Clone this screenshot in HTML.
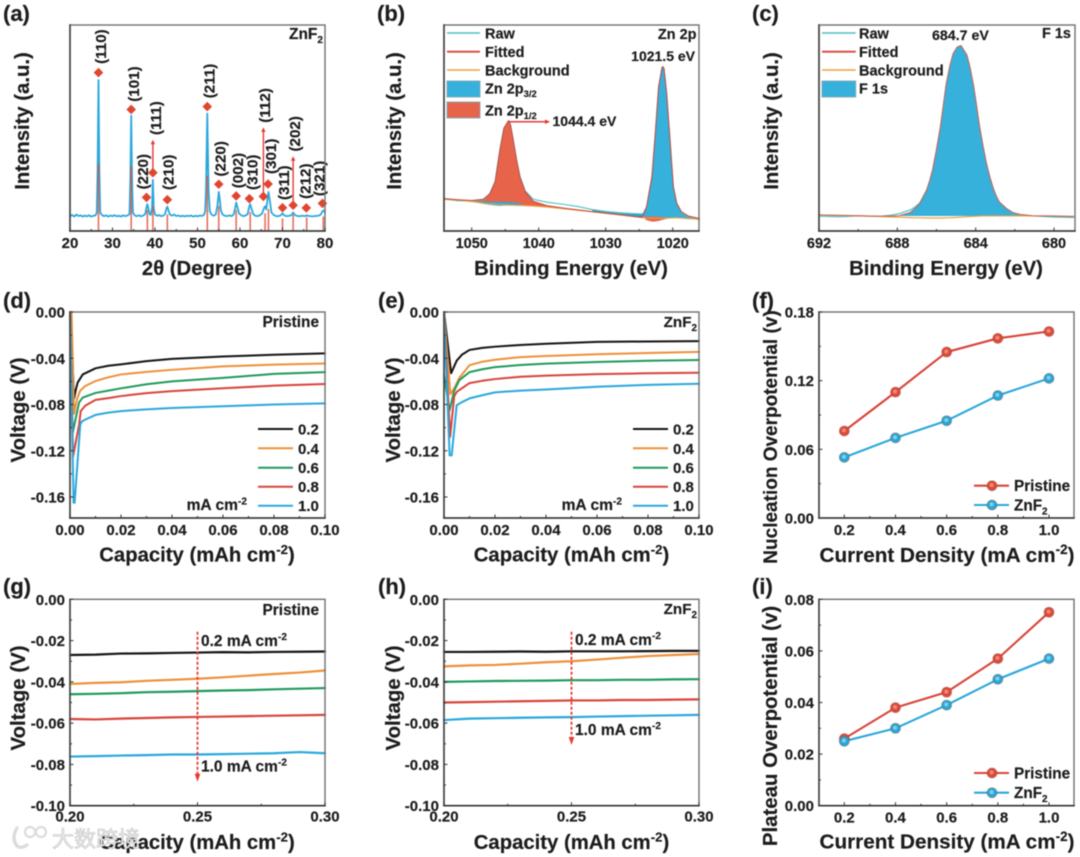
<!DOCTYPE html>
<html lang="en">
<head>
<meta charset="utf-8">
<title>ZnF2 characterization and overpotential panels</title>
<style>
html,body{margin:0;padding:0;background:#fff;width:1080px;height:857px;overflow:hidden}
svg{display:block;filter:blur(0.45px)}
text{font-family:"Liberation Sans","Noto Sans CJK SC",sans-serif;font-weight:bold;fill:#1c1c1c;stroke:#1c1c1c;stroke-width:.18px}
</style>
</head>
<body>
<svg id="fig" xmlns="http://www.w3.org/2000/svg" width="1080" height="857" viewBox="0 0 1080 857"></svg>
<script>
/* ---------- panel (a) XRD ---------- */
const xrdTheta=[20,20.5,21,21.5,22,22.5,23,23.5,24,24.5,25,25.5,26,26.3,26.5,26.7,26.9,27.1,27.5,28,28.5,29,29.5,30,30.5,31,31.5,32,32.5,33,33.5,34,34.2,34.4,34.6,34.8,35.2,35.7,36.2,36.7,37.2,37.7,38,38.2,38.4,38.7,39,39.3,39.5,39.7,40,40.5,41,41.5,42,42.4,42.7,42.9,43.1,43.5,44,44.5,45,45.5,46,46.5,47,47.5,48,48.5,49,49.5,50,50.5,51,51.5,51.8,52,52.3,52.6,52.9,53.3,53.8,54.3,54.7,55,55.2,55.5,55.9,56.4,57,57.5,58,58.5,58.9,59.1,59.4,59.8,60.3,60.8,61.3,61.8,62.2,62.4,62.7,63.1,63.6,64.1,64.6,65.2,65.7,65.9,66.2,66.5,66.7,67,67.4,67.9,68.4,69,69.6,70,70.4,71,71.6,72.1,72.5,72.9,73.5,74,74.7,75.3,75.7,76.2,77,77.7,78.4,79,79.4,79.7,80];
const xrdIntensity=[7.2,7.8,7.0,8.0,7.3,7.6,7.0,7.5,7.1,7.6,7.0,7.4,7.6,9,30,73.3,30,9,7.8,7.2,7.6,7.0,7.5,7.2,7.7,7.1,7.4,7.0,7.6,7.2,7.5,8.2,25,56,25,9,7.6,7.2,7.6,7.1,7.5,8.2,11.5,13,11.5,8.4,7.8,11,24.8,11,8,7.4,7.7,7.2,7.5,8.4,11,11.8,10.5,8,7.5,8,7.3,7.5,7.1,7.4,7.1,7.4,7.2,7.5,7,7.4,7.1,7.5,7.3,7.8,9.5,20,57,20,9.5,8,7.4,8,12.5,19,16,10,8,7.4,7.2,7.6,7.2,8,11.5,13.8,11.5,8.4,7.6,7.2,7.5,8.2,12,13,11,8.2,7.4,7.2,7.5,8.5,11.5,12,10.5,16,19,15,9,7.8,7.3,7.2,7.6,8.6,7.6,7.2,7.4,7.7,9,7.8,7.3,7.2,7.4,7.2,7.6,7.3,7.1,7.3,7.4,8,9.6,10,9];
const refTheta=[26.7,34.4,38.2,39.5,42.9,52.3,55,59.1,62.4,65.9,66.7,70,72.5,75.7,79.6];
const refIntensity=[32.8,31.5,10.2,12,8.1,26.9,12.1,10.2,9.2,8.6,10.7,6.1,7.8,6.6,7];
const markerTheta=[26.7,34.4,38.0,39.5,42.9,52.3,55.0,59.1,62.2,65.5,66.6,70.0,72.5,75.6,79.4];
const markerLevel=[76.9,59,16.3,28.3,15.2,60.4,22.7,17,15.7,16.8,22.8,11.3,12.5,11.2,13.4];
const hklLabels=['(110)','(101)','(220)','(111)','(210)','(211)','(220)','(002)','(310)','(112)','(301)','(311)','(202)','(212)','(321)'];
const aXTicks=[20,30,40,50,60,70,80];
const aXMinor=[25,35,45,55,65,75];

/* ---------- panel (b) Zn 2p ---------- */
const bEnergy=[1054,1052,1050,1048.3,1047.3,1046.5,1045.8,1045.2,1044.5,1044.2,1043.8,1043.3,1042.8,1042,1040.8,1038.8,1036,1034,1032,1030,1028,1026,1024.6,1024.4,1023.9,1023.1,1022.6,1022.1,1021.6,1021.5,1021.3,1020.9,1020.4,1019.9,1019.4,1018.7,1017.7,1016];
const bBackground=[15.5,15.0,14.3,13.5,13.2,13.0,12.8,12.7,12.6,12.5,12.5,12.4,12.4,12.3,12.1,11.6,10.7,10,9.3,8.6,7.9,7.1,6.5,6.4,6.3,6.2,6.2,6.2,6.2,6.2,6.2,6.2,6.3,6.4,6.4,6.3,6,5.7];
const bFitted=[15.7,15.2,14.8,15.4,18,24,39.3,49.8,53.6,51.5,44.2,34.5,26.4,19,14.4,12.3,11,10.2,9.4,8.7,7.9,7.1,6.6,7.6,11.8,26.4,47.4,70,79.3,79.8,79,66.8,44.2,21.5,13.4,9.4,7.3,6.1];
const bRaw=[15.4,14.7,14.6,15.0,18.2,24.1,39.2,49.9,53.6,51.5,44.1,34.6,26.5,19.4,15.4,14,12.8,11.8,10.4,9.5,8.9,8.5,8.3,8.6,11.6,26.4,47.4,70.1,79.3,79.8,79,66.7,44.2,21.4,13.5,9.1,6.8,5.4];
const bUnderE=[1050,1048,1046,1044,1042];
const bUnderTop=[14.3,14.3,14.2,14,13];
const bUnderBottom=[14.3,13,12.2,12.4,13];
const bHumpE=[1024.4,1023.9,1023,1022.2,1021.3,1020.4];
const bHumpBottom=[6.8,5.2,4.5,4.8,5.6,6.3];
const bHumpTop=[7,7,7,6.9,6.6,6.3];
const bXTicks=[1050,1040,1030,1020];
const bXMinor=[1045,1035,1025];

/* ---------- panel (c) F 1s ---------- */
const cEnergy=[692,691,690,689,688.3,687.9,687.35,687.1,686.85,686.5,686.35,686.2,686,685.8,685.65,685.5,685.32,685.15,684.95,684.75,684.45,684.28,684.1,683.95,683.8,683.62,683.45,683.27,683.1,682.95,682.8,682.45,682.1,681.75,681.1,680,679];
const cFitted=[7.8,7.6,7.4,7.2,7.2,7.4,9,11,13.4,19.9,24.3,29.6,39.5,50.6,61,71.6,80,86.1,89.2,90,85.5,79,70.1,60.5,50.6,41,32.8,26,20.6,17,14.2,11,9,8.1,7.4,7.3,7];
const cRaw=[7.2,6.9,7.3,7.0,7.7,8.4,10.2,11.6,13.7,20,24.3,29.6,39.5,50.5,61,71.5,80,86,89.2,90,85.4,79,70,60.5,50.6,41,32.7,26,20.7,17,14.1,11.1,8.8,8,7.3,6.8,6.6];
const cBackground=[7.8,7.6,7.4,7.1,6.8,6.7,6.5,6.4,6.4,6.3,6.3,6.3,6.3,6.3,6.3,6.4,6.4,6.5,6.6,6.7,6.9,7,7.1,7.2,7.2,7.3,7.3,7.3,7.3,7.3,7.3,7.3,7.3,7.3,7.3,7.3,7.1];
const cXTicks=[692,688,684,680];
const cXMinor=[690,686,682];

/* ---------- panel (d) Pristine voltage profiles ---------- */
const dCap02=[0.0002,0.0016,0.0022,0.003,0.005,0.01,0.015,0.02,0.03,0.04,0.06,0.08,0.1];
const dV02=[0,-0.075,-0.068,-0.061,-0.054,-0.0487,-0.0465,-0.0453,-0.0425,-0.0405,-0.0385,-0.037,-0.0358];
const dCap04=[0.0006,0.0016,0.0028,0.004,0.006,0.01,0.015,0.02,0.03,0.04,0.06,0.08,0.1];
const dV04=[0,-0.088,-0.075,-0.068,-0.064,-0.0597,-0.0565,-0.054,-0.0518,-0.05,-0.047,-0.0455,-0.0445];
const dCap06=[0,0.001,0.0032,0.0036,0.005,0.01,0.015,0.02,0.03,0.04,0.06,0.08,0.1];
const dV06=[0,-0.105,-0.082,-0.078,-0.074,-0.07,-0.068,-0.066,-0.0625,-0.06,-0.057,-0.0535,-0.052];
const dCap08=[0,0.0012,0.0036,0.0042,0.006,0.01,0.015,0.02,0.03,0.04,0.06,0.08,0.1];
const dV08=[0,-0.125,-0.097,-0.0857,-0.081,-0.076,-0.0745,-0.0727,-0.0702,-0.0684,-0.066,-0.0637,-0.0623];
const dCap10=[0,0.0014,0.0018,0.004,0.0045,0.006,0.01,0.015,0.02,0.03,0.04,0.06,0.08,0.1];
const dV10=[0,-0.165,-0.165,-0.098,-0.095,-0.093,-0.089,-0.087,-0.0857,-0.0842,-0.083,-0.0815,-0.08,-0.079];

/* ---------- panel (e) ZnF2 voltage profiles ---------- */
const eCap02=[0,0.0028,0.004,0.005,0.007,0.01,0.015,0.02,0.03,0.04,0.06,0.08,0.1];
const eV02=[0,-0.053,-0.047,-0.042,-0.037,-0.0328,-0.031,-0.03,-0.0285,-0.0275,-0.0258,-0.0255,-0.0252];
const eCap04=[0,0.0025,0.004,0.006,0.01,0.015,0.02,0.03,0.04,0.06,0.08,0.1];
const eV04=[0,-0.071,-0.066,-0.057,-0.046,-0.043,-0.0413,-0.039,-0.038,-0.0365,-0.0355,-0.0345];
const eCap06=[0,0.0022,0.004,0.006,0.01,0.015,0.02,0.03,0.04,0.06,0.08,0.1];
const eV06=[-0.055,-0.085,-0.068,-0.059,-0.052,-0.0495,-0.0477,-0.0458,-0.0447,-0.0432,-0.0422,-0.0415];
const eCap08=[0,0.0024,0.004,0.005,0.01,0.015,0.02,0.03,0.04,0.06,0.08,0.1];
const eV08=[0,-0.108,-0.073,-0.069,-0.0615,-0.0595,-0.058,-0.056,-0.055,-0.0537,-0.053,-0.0525];
const eCap10=[0,0.0022,0.003,0.005,0.007,0.01,0.015,0.02,0.03,0.04,0.06,0.08,0.1];
const eV10=[0,-0.124,-0.124,-0.0805,-0.078,-0.0747,-0.072,-0.0695,-0.068,-0.067,-0.0647,-0.063,-0.062];
const profileXLabels=['0.00','0.02','0.04','0.06','0.08','0.10'];
const profileXMinor=[0.01,0.03,0.05,0.07,0.09];
const profileYLabels=['0.00','-0.04','-0.08','-0.12','-0.16'];
const profileYMinor=[-0.02,-0.06,-0.1,-0.14];
const rateLabels=['0.2','0.4','0.6','0.8','1.0'];

/* ---------- panels (g) (h) plateau zooms ---------- */
const plateauCap=[0.2,0.21,0.22,0.23,0.24,0.25,0.26,0.27,0.28,0.29,0.3];
const gV02=[-0.027,-0.0268,-0.0263,-0.0262,-0.026,-0.0258,-0.0256,-0.0257,-0.0255,-0.0254,-0.0253];
const gV04=[-0.041,-0.0405,-0.0402,-0.0395,-0.039,-0.0385,-0.0378,-0.037,-0.0362,-0.0355,-0.0345];
const gV06=[-0.046,-0.0458,-0.0455,-0.045,-0.0448,-0.0445,-0.0442,-0.044,-0.0436,-0.0433,-0.043];
const gV08=[-0.058,-0.0582,-0.0578,-0.0575,-0.0572,-0.057,-0.0568,-0.0566,-0.0564,-0.0562,-0.056];
const gV10=[-0.0762,-0.076,-0.0757,-0.0755,-0.0752,-0.0752,-0.075,-0.0748,-0.0746,-0.074,-0.0746];
const hV02=[-0.0255,-0.0255,-0.0254,-0.0253,-0.0254,-0.0252,-0.0252,-0.0252,-0.0251,-0.025,-0.025];
const hV04=[-0.0325,-0.032,-0.0318,-0.0312,-0.0305,-0.03,-0.0292,-0.0283,-0.0275,-0.027,-0.0265];
const hV06=[-0.04,-0.0398,-0.0396,-0.0395,-0.0394,-0.0392,-0.0392,-0.039,-0.039,-0.0388,-0.0387];
const hV08=[-0.05,-0.0498,-0.0496,-0.0494,-0.0492,-0.049,-0.049,-0.0488,-0.0488,-0.0486,-0.0485];
const hV10=[-0.0585,-0.0578,-0.0576,-0.0574,-0.0572,-0.0571,-0.0568,-0.0566,-0.0564,-0.0562,-0.056];
const plateauXLabels=['0.20','0.25','0.30'];
const plateauXMinor=[0.225,0.275];
const plateauYLabels=['0.00','-0.02','-0.04','-0.06','-0.08','-0.10'];
const plateauYMinor=[-0.01,-0.03,-0.05,-0.07,-0.09];
const gArrowRange=[-0.0157,-0.0884];
const hArrowRange=[-0.0157,-0.0706];

/* ---------- panels (f) (i) summary ---------- */
const currentDensity=[0.2,0.4,0.6,0.8,1.0];
const currentLabels=['0.2','0.4','0.6','0.8','1.0'];
const currentMinor=[0.3,0.5,0.7,0.9];
const fPristine=[0.076,0.11,0.145,0.157,0.163];
const fZnF2=[0.053,0.07,0.085,0.107,0.122];
const fYLabels=['0.00','0.06','0.12','0.18'];
const fYMinor=[0.03,0.09,0.15];
const iPristine=[0.026,0.038,0.044,0.057,0.075];
const iZnF2=[0.025,0.03,0.039,0.049,0.057];
const iYLabels=['0.00','0.02','0.04','0.06','0.08'];
const iYMinor=[0.01,0.03,0.05,0.07];

const NS='http://www.w3.org/2000/svg';
const COL={k:'#141414',o:'#ee9038',g:'#1f9a5c',r:'#d9443a',b:'#2aa8dc',fillB:'#35b1dc',fillR:'#e7644b',teal:'#52bfc2',bgO:'#eea13f',arrow:'#e53a32'};
const RATE_COLORS=[COL.k,COL.o,COL.g,COL.r,COL.b];
const fig=document.getElementById('fig');

function scale(d0,d1,r0,r1){return v=>r0+(v-d0)*(r1-r0)/(d1-d0);}
function attrs(el,a){for(const k in a)el.setAttribute(k,a[k]);return el;}
function group(parent,name){
  const el=document.createElementNS(NS,'g');
  
  
  parent.appendChild(el);
  return el;
}
function line(parent,name,x1,y1,x2,y2,color,w,dash){
  const el=document.createElementNS(NS,'line');
  
  
  attrs(el,{x1,y1,x2,y2,stroke:color,'stroke-width':w});
  if(dash)el.setAttribute('stroke-dasharray',dash);
  parent.appendChild(el);
  return el;
}
function poly(parent,name,xs,ys,sx,sy,color,w){
  const el=document.createElementNS(NS,'polyline');
  
  
  attrs(el,{points:xs.map((x,i)=>sx(x).toFixed(2)+','+sy(ys[i]).toFixed(2)).join(' '),fill:'none',stroke:color,'stroke-width':w,'stroke-linejoin':'round','stroke-linecap':'round'});
  parent.appendChild(el);
  return el;
}
function area(parent,name,xsTop,ysTop,xsBot,ysBot,sx,sy,color){
  const pts=[];
  xsTop.forEach((x,i)=>pts.push(sx(x).toFixed(2)+','+sy(ysTop[i]).toFixed(2)));
  for(let i=xsBot.length-1;i>=0;i--)pts.push(sx(xsBot[i]).toFixed(2)+','+sy(ysBot[i]).toFixed(2));
  const el=document.createElementNS(NS,'polygon');
  
  
  attrs(el,{points:pts.join(' '),fill:color,stroke:'none'});
  parent.appendChild(el);
  return el;
}
function triangle(parent,name,pts,color){
  const el=document.createElementNS(NS,'polygon');
  
  
  attrs(el,{points:pts,fill:color});
  parent.appendChild(el);
  return el;
}
function circle(parent,name,cx,cy,r,fill,stroke){
  const el=document.createElementNS(NS,'circle');
  
  
  attrs(el,{cx,cy,r,fill});
  if(stroke){el.setAttribute('stroke',stroke);el.setAttribute('stroke-width',1);}
  parent.appendChild(el);
  return el;
}
function rect(parent,name,x,y,w,h,fill,stroke){
  const el=document.createElementNS(NS,'rect');
  
  
  attrs(el,{x,y,width:w,height:h,fill});
  if(stroke){el.setAttribute('stroke',stroke);el.setAttribute('stroke-width',1);}
  parent.appendChild(el);
  return el;
}
/* text with ^{sup} and _{sub} segments */
function label(parent,name,x,y,str,size,anchor,rot){
  const el=document.createElementNS(NS,'text');
  
  
  attrs(el,{x,y,'font-size':size,'text-anchor':anchor||'start'});
  if(rot)el.setAttribute('transform','rotate('+rot+' '+x+' '+y+')');
  const parts=str.split(/([\^_]\{[^}]*\})/);
  let pending=0;
  parts.forEach(p=>{
    if(!p)return;
    const t=document.createElementNS(NS,'tspan');
    const m=p.match(/^([\^_])\{([^}]*)\}$/);
    if(m){
      const d=(m[1]==='^'?-0.38:0.25)*size;
      t.setAttribute('dy',(pending+d).toFixed(2));
      t.setAttribute('font-size',(size*0.65).toFixed(2));
      t.textContent=m[2];
      pending=-d;
    }else{
      if(pending)t.setAttribute('dy',pending.toFixed(2));
      pending=0;
      t.textContent=p;
    }
    el.appendChild(t);
  });
  parent.appendChild(el);
  return el;
}
function frame(parent,box){
  const el=document.createElementNS(NS,'rect');
  
  
  attrs(el,{x:box.l,y:box.t,width:box.r-box.l,height:box.b-box.t,fill:'none',stroke:'#707070','stroke-width':1.4});
  parent.appendChild(el);
  line(parent,'x-axis-line',box.l-.7,box.b,box.r+.7,box.b,'#333',1.6);
  line(parent,'y-axis-line',box.l,box.t-.7,box.l,box.b+.7,'#444',1.6);
}
function xAxis(parent,box,sx,labels,minor,baseline,size){
  labels.forEach(s=>{
    const v=Number(s),x=sx(v);
    line(parent,'x-major-tick',x,box.b,x,box.b-3.5,'#333',1);
    label(parent,'x-tick-label',x,baseline,String(s),size||15,'middle');
  });
  minor.forEach(v=>{line(parent,'x-minor-tick',sx(v),box.b,sx(v),box.b-2,'#333',1);});
}
function yAxis(parent,box,sy,labels,minor){
  labels.forEach(s=>{
    const y=sy(Number(s));
    line(parent,'y-major-tick',box.l,y,box.l+3.5,y,'#333',1);
    label(parent,'y-tick-label',box.l-5,y+5.5,s,15,'end');
  });
  minor.forEach(v=>{line(parent,'y-minor-tick',box.l,sy(v),box.l+2,sy(v),'#333',1);});
}
function rateLegend(parent,x1,x2,tx,ys,unitX){
  rateLabels.forEach((s,i)=>{
    line(parent,'legend-line-'+s,x1,ys[i],x2,ys[i],RATE_COLORS[i],2);
    label(parent,'legend-label-'+s,tx,ys[i]+5.5,s,15);
  });
  label(parent,'legend-unit',unitX,ys[4]+4.5,'mA cm^{-2}',15.6,'end');
}
function xpsLegend(parent,lx1,lx2,tx,keys){
  const ys=[33,51.7,70];
  const names=['Raw','Fitted','Background'];
  const cols=[COL.teal,COL.r,COL.bgO];
  names.forEach((n,i)=>{
    line(parent,'legend-line-'+n.toLowerCase(),lx1,ys[i],lx2,ys[i],cols[i],i===1?1.8:1.5);
    label(parent,'legend-label-'+n.toLowerCase(),tx,ys[i]+5.5,n,14.5);
  });
  keys.forEach((k,i)=>{
    const y=81+i*21;
    rect(parent,'legend-swatch',lx1,y,lx2-lx1,16,k.color,'#8ab');
    label(parent,'legend-label-peak',tx,y+12.5+(i?1:0),k.text,14.5);
  });
}

/* ---------- draw panel (a) ---------- */
(function(){
  const box={l:70,r:325,t:25,b:231};
  const g=group(fig,'panel-a-xrd');
  const sx=scale(20,80,box.l,box.r), sy=scale(0,100,box.b,box.t);
  poly(g,'xrd-pattern',xrdTheta,xrdIntensity,sx,sy,COL.b,1.8);
  refTheta.forEach((t,i)=>{
    const el=line(g,'reference-bar',sx(t),sy(0),sx(t),sy(refIntensity[i]),'rgba(222,74,54,.8)',1.6);
    el.setAttribute('stroke-linecap','butt');
  });
  const offs=[[7.3,-8.7],[8,-7.7],[1.7,-8],[8,-37.7],[6.3,-9.7],[7,-8.3],[7,-7.7],[7,-7.7],[8,-8.7],[6.7,-73.7],[8,-10],[6.3,-7.7],[7,-53.7],[4,-9],[2.3,-7.3]];
  const arrowLen={3:33,9:69,12:49};
  markerTheta.forEach((t,i)=>{
    const x=sx(t),y=sy(markerLevel[i]);
    if(arrowLen[i]){
      const tip=y-arrowLen[i];
      line(g,'peak-arrow-stem',x,y,x,tip+3,COL.arrow,1.4);
      triangle(g,'peak-arrow-head',x+','+tip+' '+(x-2.2)+','+(tip+4.5)+' '+(x+2.2)+','+(tip+4.5),COL.arrow);
    }
    triangle(g,'peak-marker-diamond',x+','+(y-4.8)+' '+(x+4.8)+','+y+' '+x+','+(y+4.8)+' '+(x-4.8)+','+y,'#e0452f');
    label(g,'peak-label',x+offs[i][0],y+offs[i][1],hklLabels[i],15.2,'start',-90);
  });
  frame(g,box);
  xAxis(g,box,sx,aXTicks,aXMinor,248);
  label(g,'x-axis-title',197,275,'2θ (Degree)',20.3,'middle');
  label(g,'y-axis-title',29,121,'Intensity (a.u.)',20.3,'middle',-90);
  label(g,'sample-label',323,39,'ZnF_{2}',15.5,'end');
  label(g,'panel-letter',3,21,'(a)',22);
})();

/* ---------- draw panel (b) ---------- */
(function(){
  const box={l:444,r:699,t:25,b:231};
  const g=group(fig,'panel-b-zn2p');
  const sx=scale(1050,1020,471.7,672.7), sy=scale(0,100,box.b,box.t);
  const n=bEnergy.length;
  area(g,'zn2p12-fill',bEnergy.slice(0,18),bFitted.slice(0,18),bEnergy.slice(0,18),bBackground.slice(0,18),sx,sy,COL.fillR);
  area(g,'zn2p32-shoulder-fill',bEnergy.slice(18,24),bRaw.slice(18,24),bEnergy.slice(18,24),bFitted.slice(18,24),sx,sy,'#2f9fc6');
  area(g,'zn2p32-fill',bEnergy.slice(23,n),bFitted.slice(23,n),bEnergy.slice(23,n),bBackground.slice(23,n),sx,sy,COL.fillB);
  area(g,'zn2p12-under-fill',bUnderE,bUnderTop,bUnderE,bUnderBottom,sx,sy,'#3aa6cc');
  area(g,'zn2p12-hump-fill',bHumpE,bHumpTop,bHumpE,bHumpBottom,sx,sy,COL.fillR);
  poly(g,'raw-curve',bEnergy,bRaw,sx,sy,COL.teal,1.1);
  poly(g,'background-curve',bEnergy,bBackground,sx,sy,COL.bgO,1.1);
  poly(g,'fitted-curve',bEnergy,bFitted,sx,sy,'#c9473f',1);
  frame(g,box);
  xAxis(g,box,sx,bXTicks,bXMinor,248,14.5);
  label(g,'x-axis-title',571,275,'Binding Energy (eV)',20.3,'middle');
  label(g,'y-axis-title',401,121,'Intensity (a.u.)',20.3,'middle',-90);
  xpsLegend(g,447,480,485,[{text:'Zn 2p_{3/2}',color:COL.fillB},{text:'Zn 2p_{1/2}',color:COL.fillR}]);
  label(g,'region-label',696.5,39,'Zn 2p',14.5,'end');
  label(g,'peak-value-3-2',695,61,'1021.5 eV',14,'end');
  line(g,'peak-value-arrow',sx(1044.4),121.7,546,121.7,COL.arrow,1.5);
  triangle(g,'peak-value-arrow-head','550,121.7 545,119.5 545,124',COL.arrow);
  label(g,'peak-value-1-2',552.5,126,'1044.4 eV',14);
  label(g,'panel-letter',377,21,'(b)',22);
})();

/* ---------- draw panel (c) ---------- */
(function(){
  const box={l:819,r:1075,t:25,b:231};
  const g=group(fig,'panel-c-f1s');
  const sx=scale(692,680,819,1054), sy=scale(0,100,box.b,box.t);
  const fe=cEnergy.slice(5), ff=cFitted.slice(5), base=fe.map(()=>cBackground[30]);
  area(g,'f1s-fill',fe,ff,fe,base,sx,sy,COL.fillB);
  poly(g,'raw-curve',cEnergy,cRaw,sx,sy,COL.teal,1.2);
  poly(g,'background-curve',cEnergy,cBackground,sx,sy,COL.bgO,1.2);
  poly(g,'fitted-curve',cEnergy,cFitted,sx,sy,'#c8625c',1);
  frame(g,box);
  xAxis(g,box,sx,cXTicks,cXMinor,248,14.5);
  label(g,'x-axis-title',946,275,'Binding Energy (eV)',20.3,'middle');
  label(g,'y-axis-title',778,121,'Intensity (a.u.)',20.3,'middle',-90);
  xpsLegend(g,822,855.7,859,[{text:'F 1s',color:COL.fillB}]);
  label(g,'peak-value',932,40,'684.7 eV',14.2);
  label(g,'region-label',1071,38,'F 1s',14.5,'end');
  label(g,'panel-letter',752,21,'(c)',22);
})();

/* ---------- draw panels (d) (e) ---------- */
function profilePanel(name,box,letter,lx,caps,volts,tag,legendX,titleX,titleCX){
  const g=group(fig,name);
  const sx=scale(0,0.1,box.l,box.r), sy=scale(0,-0.16,312,497);
  volts.forEach((v,i)=>{poly(g,'voltage-curve-'+rateLabels[i],caps[i],v,sx,sy,RATE_COLORS[i],2);});
  frame(g,box);
  xAxis(g,box,sx,profileXLabels,profileXMinor,535);
  yAxis(g,box,sy,profileYLabels,profileYMinor);
  label(g,'x-axis-title',titleCX,561.5,'Capacity (mAh cm^{-2})',20.3,'middle');
  label(g,'y-axis-title',titleX,410,'Voltage (V)',20.4,'middle',-90);
  rateLegend(g,legendX,legendX+35,legendX+40,[429,448.3,467.7,486.7,505.7],legendX-11);
  label(g,'sample-label',box.r-(tag==='Pristine'?6:2),327,tag,tag==='Pristine'?15.4:15.2,'end');
  label(g,'panel-letter',lx,308,letter,22);
}
profilePanel('panel-d-pristine-profiles',{l:70,r:325,t:312,b:518},'(d)',3,[dCap02,dCap04,dCap06,dCap08,dCap10],[dV02,dV04,dV06,dV08,dV10],'Pristine',258,25,197);
profilePanel('panel-e-znf2-profiles',{l:444,r:699,t:312,b:518},'(e)',378,[eCap02,eCap04,eCap06,eCap08,eCap10],[eV02,eV04,eV06,eV08,eV10],'ZnF_{2}',633,400,571.5);

/* ---------- draw panels (g) (h) ---------- */
function plateauPanel(name,box,letter,lx,volts,tag,arrowRange,titleX,titleCX,midTextX,topBase,botBase,tagBase){
  const g=group(fig,name);
  const sx=scale(0.2,0.3,box.l,box.r), sy=scale(0,-0.1,box.t,box.b);
  volts.forEach((v,i)=>{poly(g,'plateau-curve-'+rateLabels[i],plateauCap,v,sx,sy,RATE_COLORS[i],2.2);});
  frame(g,box);
  xAxis(g,box,sx,plateauXLabels,plateauXMinor,821.5);
  yAxis(g,box,sy,plateauYLabels,plateauYMinor);
  const ax=sx(0.25), a0=sy(arrowRange[0]), a1=sy(arrowRange[1]);
  line(g,'rate-arrow-stem',ax,a0,ax,a1-5,COL.arrow,1.8,'3 2');
  triangle(g,'rate-arrow-head',ax+','+a1+' '+(ax-2.8)+','+(a1-8)+' '+(ax+2.8)+','+(a1-8),COL.arrow);
  label(g,'rate-label-low',midTextX,topBase,'0.2 mA cm^{-2}',15.5);
  label(g,'rate-label-high',midTextX,botBase,'1.0 mA cm^{-2}',15.5);
  label(g,'x-axis-title',titleCX,849,'Capacity (mAh cm^{-2})',20.3,'middle');
  label(g,'y-axis-title',titleX,698,'Voltage (V)',20.4,'middle',-90);
  label(g,'sample-label',box.r-(tag==='Pristine'?6:2),tagBase,tag,tag==='Pristine'?15.4:15.2,'end');
  label(g,'panel-letter',lx,594,letter,22);
}
plateauPanel('panel-g-pristine-plateau',{l:70,r:325,t:599.3,b:805.7},'(g)',3,[gV02,gV04,gV06,gV08,gV10],'Pristine',gArrowRange,25,197,201,646,771.5,615);
plateauPanel('panel-h-znf2-plateau',{l:444,r:699,t:599.3,b:805.7},'(h)',378,[hV02,hV04,hV06,hV08,hV10],'ZnF_{2}',hArrowRange,400,571.5,575,645,735,614);

/* ---------- draw panels (f) (i) ---------- */
function dot(g,name,x,y,color,lite){
  circle(g,name,x,y,5,color,'rgba(120,60,50,.35)');
  circle(g,name+'-highlight',x-.4,y-.6,2,lite);
}
function summaryPanel(name,box,letter,yMax,yLabels,yMinor,pr,zn,title,titleCY,titleSize,legY,letterY){
  const g=group(fig,name);
  const sx=scale(0.2,1.0,844.3,1049), sy=scale(0,yMax,box.b,box.t);
  poly(g,'pristine-line',currentDensity,pr,sx,sy,COL.r,2.1);
  poly(g,'znf2-line',currentDensity,zn,sx,sy,COL.b,2.1);
  currentDensity.forEach((c,i)=>{dot(g,'pristine-point',sx(c),sy(pr[i]),'#dc4a38','#f08a78');});
  currentDensity.forEach((c,i)=>{dot(g,'znf2-point',sx(c),sy(zn[i]),'#29a6d6','#7fd0ec');});
  frame(g,box);
  xAxis(g,box,sx,currentLabels,currentMinor,box.b+17);
  yAxis(g,box,sy,yLabels,yMinor);
  label(g,'x-axis-title',947,box.b+(letterY===594?43:44),'Current Density (mA cm^{-2})',20.7,'middle');
  label(g,'y-axis-title',777,titleCY,title,titleSize,'middle',-90);
  line(g,'legend-line-pristine',974,legY[0],1009,legY[0],COL.r,2.1);
  dot(g,'legend-marker-pristine',992,legY[0],'#dc4a38','#f08a78');
  label(g,'legend-label-pristine',1014,legY[0]+5.5,'Pristine',15.3);
  line(g,'legend-line-znf2',974,legY[1],1009,legY[1],COL.b,2.1);
  dot(g,'legend-marker-znf2',992,legY[1],'#29a6d6','#7fd0ec');
  label(g,'legend-label-znf2',1014,legY[1]+5.5,'ZnF_{2}',15.3);
  label(g,'panel-letter',752,letterY,letter,22);
}
summaryPanel('panel-f-nucleation',{l:819,r:1074,t:312,b:518},'(f)',0.18,fYLabels,fYMinor,fPristine,fZnF2,'Nucleation Overpotential (v)',437,19,[485.7,505],308);
summaryPanel('panel-i-plateau',{l:819,r:1074,t:599.3,b:805.7},'(i)',0.08,iYLabels,iYMinor,iPristine,iZnF2,'Plateau Overpotential (v)',726,20.4,[773,792.7],594);

/* ---------- watermark ---------- */
(function(){
  const g=group(fig,'watermark');
  const arc=document.createElementNS(NS,'path');
  
  
  attrs(arc,{d:'M17 828 Q11 838 17 846 Q21 849 27 845',fill:'none',stroke:'#dcdcdc','stroke-width':3.4,'stroke-linecap':'round'});
  g.appendChild(arc);
  const ring1=circle(g,'watermark-logo-ring',30,832,5,'none');
  ring1.setAttribute('stroke','#dcdcdc');
  ring1.setAttribute('stroke-width',2.2);
  const ring2=circle(g,'watermark-logo-ring',41,832,5,'none');
  ring2.setAttribute('stroke','#dcdcdc');
  ring2.setAttribute('stroke-width',2.2);
  const t=label(g,'watermark-text',52,847,'大数跨境',22);
  t.style.fill='#ececec';
  t.style.stroke='#c4c4c4';
  t.style.strokeWidth='.6px';
  t.style.fontWeight='normal';
})();
</script>
</body>
</html>
